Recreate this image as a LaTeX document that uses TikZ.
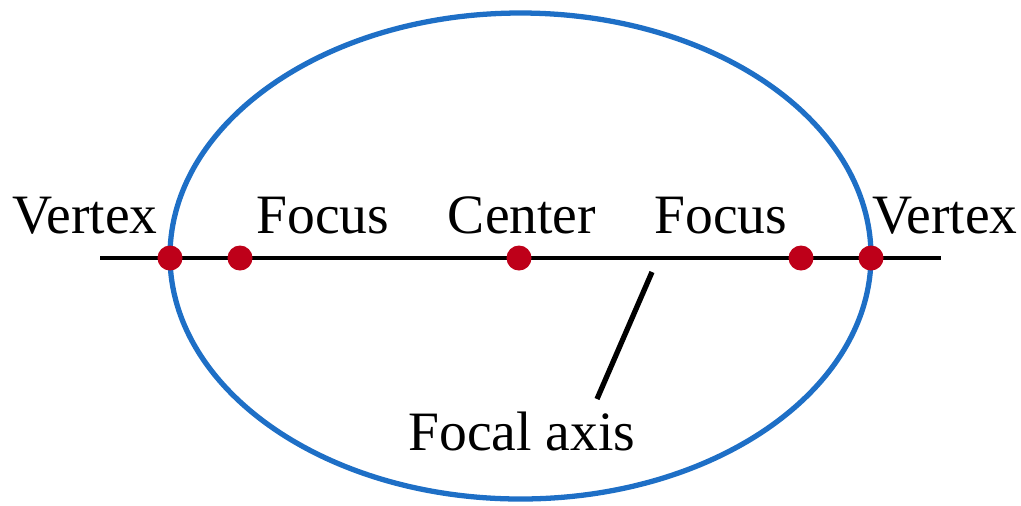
\documentclass[tikz,border=0pt]{standalone}
\usepackage{fontspec}
\setmainfont{Liberation Serif}
\usepackage{tikz}
\usetikzlibrary{positioning,calc}
\usepackage{xcolor}
\definecolor{ellblue}{HTML}{1E6FC6}
\definecolor{dotred}{HTML}{BE0019}

\begin{document}
\begin{tikzpicture}[
  x=0.01cm, y=-0.01cm,
  lbl/.style={anchor=base, inner sep=0pt, font=\fontsize{15.8}{19}\selectfont},
  pt/.style={circle, fill=dotred, inner sep=0pt, minimum size=0.25cm},
]
  \useasboundingbox (0,0) rectangle (1021,505);

  % Ellipse
  \draw[ellblue, line width=1.5pt] (520.5,256) ellipse [x radius=350.5, y radius=243];

  % Focal axis
  \coordinate (axl) at (100,258);
  \coordinate (axr) at (941,258);
  \draw[line width=0.9pt] (axl) -- (axr);

  % Points on the axis
  \node[pt] (v1) at (170,258) {};
  \node[pt] (f1) at (240,258) {};
  \node[pt] (c)  at (519,258) {};
  \node[pt] (f2) at (801,258) {};
  \node[pt] (v2) at (871,258) {};

  % Labels
  \node[lbl] (lv1) at (85,233) {Vertex};
  \node[lbl] (lf1) at (323,233) {Focus};
  \node[lbl] (lc)  at (522,233) {Center};
  \node[lbl] (lf2) at (721,233) {Focus};
  \node[lbl] (lv2) at (945,233) {Vertex};

  % Pointer to the axis
  \node[lbl] (lax) at (522,450) {Focal axis};
  \coordinate (ptop) at (652,272);
  \coordinate (pbot) at (597,399);
  \draw[line width=1.5pt] (ptop) -- (pbot);
\end{tikzpicture}
\end{document}
